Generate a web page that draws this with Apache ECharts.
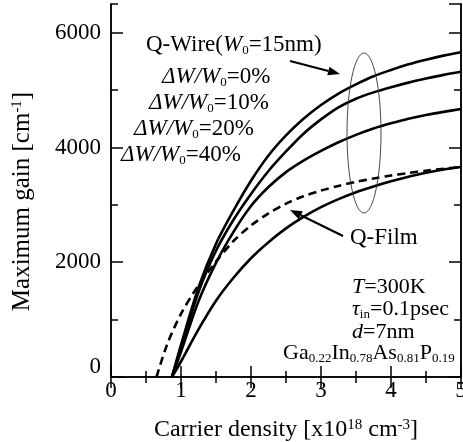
<!DOCTYPE html>
<html>
<head>
<meta charset="utf-8">
<script src="https://cdn.jsdelivr.net/npm/echarts@6/dist/echarts.min.js"></script>
<style>html,body{margin:0;padding:0;background:#fff;}#c{width:463px;height:442px;}</style>
</head>
<body>
<div id="c"></div>
<script>
// ---- data ----
const xTicks = [0, 1, 2, 3, 4, 5];
const yTicks = [0, 2000, 4000, 6000];
const xWire = [0.87, 1.0, 1.25, 1.5, 1.75, 2.0, 2.25, 2.5, 2.75, 3.0, 3.25, 3.5, 3.75, 4.0, 4.25, 4.5, 4.75, 5.0];
const gainWire0 = [0, 560, 1560, 2320, 2900, 3420, 3860, 4210, 4500, 4740, 4940, 5100, 5240, 5350, 5450, 5530, 5600, 5660];
const gainWire10 = [0, 500, 1480, 2200, 2740, 3190, 3590, 3930, 4240, 4490, 4700, 4850, 4960, 5050, 5130, 5200, 5265, 5320];
const gainWire20 = [0, 440, 1320, 1990, 2530, 2980, 3310, 3570, 3770, 3940, 4090, 4220, 4330, 4420, 4500, 4565, 4620, 4670];
const gainWire40 = [0, 270, 830, 1330, 1730, 2070, 2350, 2590, 2790, 2960, 3100, 3220, 3320, 3410, 3490, 3560, 3615, 3660];
const xFilm = [0.65, 0.8, 1.0, 1.25, 1.5, 1.75, 2.0, 2.25, 2.5, 2.75, 3.0, 3.25, 3.5, 3.75, 4.0, 4.25, 4.5, 4.75, 5.0];
const gainFilm = [0, 560, 1100, 1600, 2010, 2370, 2640, 2850, 3020, 3150, 3250, 3330, 3400, 3460, 3510, 3555, 3595, 3630, 3660];

const FONT = 'Liberation Serif';
const pairs = (xs, ys) => xs.map((x, i) => [x, ys[i]]);

const chart = echarts.init(document.getElementById('c'), null, {renderer: 'canvas'});

const axisLine = {show: true, lineStyle: {color: '#000', width: 1.5}};
function xAx(pos, withLabel) {
  return {
    type: 'value', min: 0, max: 5, interval: 1, position: pos,
    axisLine: axisLine,
    axisTick: {show: true, inside: true, length: 11, lineStyle: {color: '#000', width: 1.5}},
    minorTick: {show: true, splitNumber: 2, length: 6, lineStyle: {color: '#000', width: 1.5}},
    splitLine: {show: false}, minorSplitLine: {show: false},
    axisLabel: withLabel ? {
      color: '#000', fontFamily: FONT, fontSize: 23, margin: 2,
      formatter: v => (xTicks.indexOf(v) >= 0 ? String(v) : '')
    } : {show: false}
  };
}
function yAx(pos, interval, tickLen, withLabel) {
  return {
    type: 'value', min: 0, max: 6500, interval: interval, position: pos,
    axisLine: axisLine,
    axisTick: {show: true, inside: true, length: tickLen, lineStyle: {color: '#000', width: 1.5}},
    splitLine: {show: false},
    axisLabel: withLabel ? {
      color: '#000', fontFamily: FONT, fontSize: 23, margin: 10, showMaxLabel: false,
      formatter: v => (v === 0 ? '{z|0}' : (yTicks.indexOf(v) >= 0 ? String(v) : '')),
      rich: {z: {fontFamily: FONT, fontSize: 23, color: '#000', padding: [0, 0, 20, 0]}}
    } : {show: false}
  };
}

const xMain = xAx('bottom', true);
xMain.name = 'Carrier density [x10{sup|18} cm{sup|-3}]';
xMain.nameLocation = 'middle';
xMain.nameGap = 41;
xMain.nameTextStyle = {
  color: '#000', fontFamily: FONT, fontSize: 24,
  rich: {sup: {fontFamily: FONT, fontSize: 15, color: '#000', verticalAlign: 'top', lineHeight: 15}}
};

const yMain = yAx('left', 2000, 12, true);
yMain.name = 'Maximum gain [cm{sup|-1}]';
yMain.nameLocation = 'middle';
yMain.nameGap = 76;
yMain.nameTextStyle = {
  color: '#000', fontFamily: FONT, fontSize: 25, padding: [0, 22, 0, 0],
  rich: {sup: {fontFamily: FONT, fontSize: 15, color: '#000', verticalAlign: 'top', lineHeight: 15}}
};

const solid = {color: '#000', width: 2.6, type: 'solid'};
function lineSeries(name, data, style) {
  return {
    name: name, type: 'line', data: data, showSymbol: false, symbol: 'none',
    smooth: 0.3, lineStyle: style, xAxisIndex: 0, yAxisIndex: 0,
    z: 3, silent: true
  };
}

function richSet(fs) {
  return {
    n: {fontFamily: FONT, fontSize: fs, color: '#000'},
    i: {fontFamily: FONT, fontSize: fs, color: '#000', fontStyle: 'italic'},
    s: {fontFamily: FONT, fontSize: 13, color: '#000', verticalAlign: 'bottom', lineHeight: 13}
  };
}
function txt(x, y, text, fs) {
  fs = fs || 23;
  return {type: 'text', x: x, y: y, z: 10,
    style: {text: text, rich: richSet(fs), fontFamily: FONT, fontSize: fs, fill: '#000', verticalAlign: 'middle', textAlign: 'left', lineHeight: fs + 2}};
}
function arrow(x1, y1, x2, y2) {
  const ang = Math.atan2(y2 - y1, x2 - x1);
  const L = 12, W = 4.5;
  const bx = x2 - L * Math.cos(ang), by = y2 - L * Math.sin(ang);
  const px = -Math.sin(ang) * W, py = Math.cos(ang) * W;
  return [
    {type: 'line', z: 10, shape: {x1: x1, y1: y1, x2: bx, y2: by}, style: {stroke: '#000', lineWidth: 2.2}},
    {type: 'polygon', z: 10, shape: {points: [[x2, y2], [bx + px, by + py], [bx - px, by - py]]}, style: {fill: '#000'}}
  ];
}

const option = {
  animation: false,
  backgroundColor: '#fff',
  grid: {left: 111, right: 2, top: 4, bottom: 65, containLabel: false, outerBoundsMode: 'none'},
  xAxis: [xMain, xAx('top', false)],
  yAxis: [yMain, yAx('left', 1000, 7, false), yAx('right', 2000, 12, false), yAx('right', 1000, 7, false)],
  series: [
    lineSeries('ΔW/W0=0%', pairs(xWire, gainWire0), solid),
    lineSeries('ΔW/W0=10%', pairs(xWire, gainWire10), solid),
    lineSeries('ΔW/W0=20%', pairs(xWire, gainWire20), solid),
    lineSeries('ΔW/W0=40%', pairs(xWire, gainWire40), solid),
    lineSeries('Q-Film', pairs(xFilm, gainFilm), {color: '#000', width: 2.6, type: [8, 5]})
  ],
  graphic: [
    txt(146, 45, 'Q-Wire({i|W}{s|0}=15nm)'),
    txt(162, 77, '{i|ΔW/W}{s|0}=0%'),
    txt(149, 103, '{i|ΔW/W}{s|0}=10%'),
    txt(134, 129, '{i|ΔW/W}{s|0}=20%'),
    txt(121, 155, '{i|ΔW/W}{s|0}=40%'),
    txt(350, 238, 'Q-Film'),
    txt(352, 287, '{i|T}=300K', 22),
    txt(352, 309, '{i|τ}{s|in}=0.1psec', 22),
    txt(352, 332, '{i|d}=7nm', 22),
    txt(283, 353, 'Ga{s|0.22}In{s|0.78}As{s|0.81}P{s|0.19}', 22),
    {type: 'ellipse', z: 9, shape: {cx: 364, cy: 133, rx: 17, ry: 80}, style: {fill: null, stroke: '#333', lineWidth: 0.9}}
  ].concat(arrow(290, 61, 340, 74)).concat(arrow(343, 236, 290, 210))
};
chart.setOption(option);
</script>
</body>
</html>
